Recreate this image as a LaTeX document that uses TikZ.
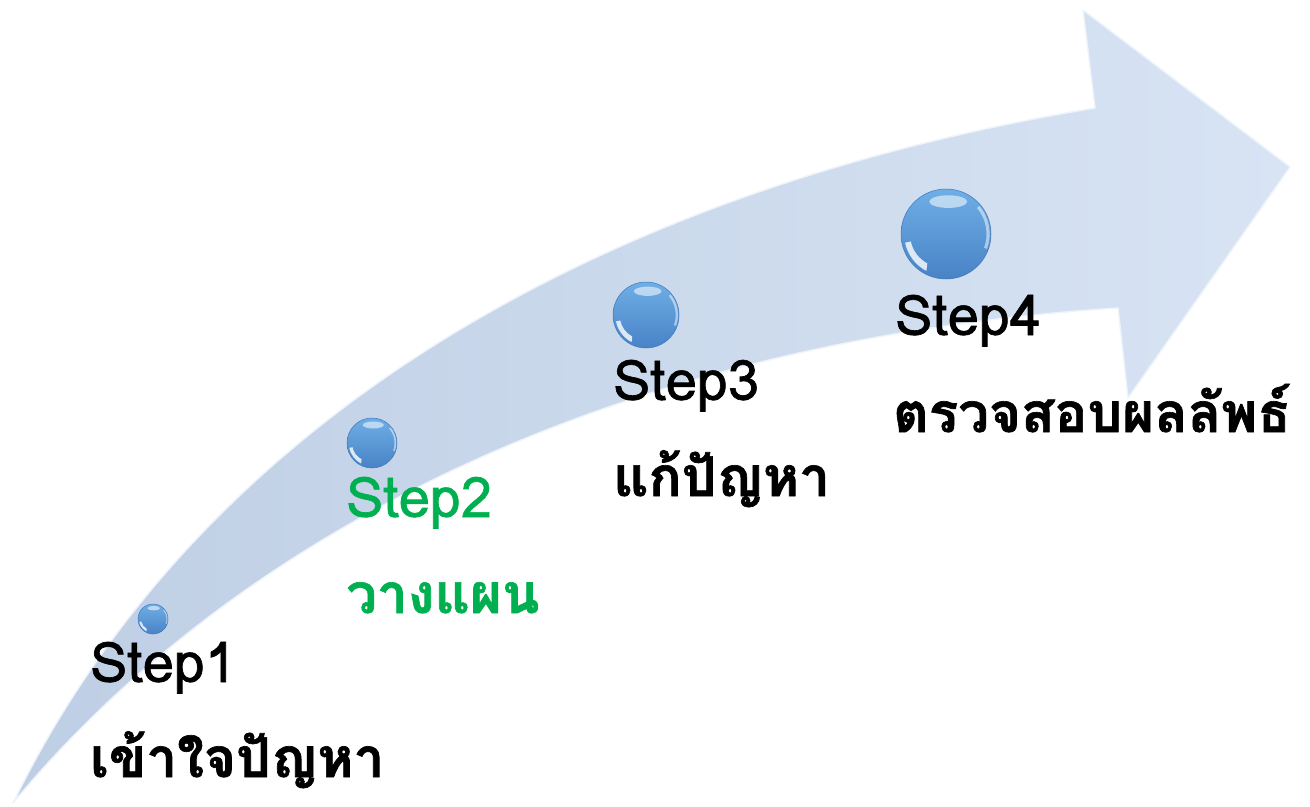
\documentclass[tikz,border=0pt]{standalone}
\usepackage{fontspec}
\newfontfamily\thaifont[Script=Thai, FakeBold=1.2]{Loma}
\usetikzlibrary{calc}
\definecolor{arrowlight}{HTML}{D8E4F4}
\definecolor{arrowdark}{HTML}{BECEE4}
\definecolor{bubtop}{HTML}{6FAEE6}
\definecolor{bubbot}{HTML}{4883C6}
\definecolor{bubedge}{HTML}{3E78BA}
\definecolor{stepgreen}{HTML}{00B050}
\tikzset{
  bubble/.style={circle, inner sep=0pt, draw=bubedge, line width=0.5pt, top color=bubtop, bottom color=bubbot},
  lbl/.style={anchor=base west, inner sep=0pt, font=\thaifont\fontsize{56}{60}\selectfont, text=black},
  thlbl/.style={lbl, font=\thaifont\bfseries\fontsize{55}{60}\selectfont},
  greenlbl/.style={lbl, text=stepgreen},
  greenthlbl/.style={thlbl, text=stepgreen}
}
\newcommand\mybubble[4]{%
  \node[bubble, minimum size=#4*2bp] (#1) at (#2,#3) {};
  \begin{scope}[shift={(#1.center)}, x=#4bp, y=-#4bp]
    \fill[white, opacity=0.55] (0.05,-0.72) ellipse (0.42 and 0.14);
    \fill[white, opacity=0.8] (118:0.93) arc (118:168:0.93) -- (168:0.8) arc (168:118:0.72) -- cycle;
    \fill[white, opacity=0.5] (-40:0.97) arc (-40:20:0.97) -- (20:0.9) arc (20:-40:0.9) -- cycle;
  \end{scope}}
\begin{document}
\begin{tikzpicture}[x=1bp, y=-1bp]
\useasboundingbox (0,0) rectangle (1310,806);
% arrow
\shade[left color=arrowdark, right color=arrowlight, draw=white!60!arrowlight, line width=1.5pt, line join=round]
  (13,803) .. controls (200,420) and (600,190) .. (1095,108)
  -- (1083,10) -- (1290,167) -- (1128,398) -- (1118,308)
  .. controls (620,340) and (240,530) .. (13,803) -- cycle;
% bubbles
\mybubble{b1}{153}{619}{15}
\mybubble{b2}{372}{443}{25}
\mybubble{b3}{646}{315}{33}
\mybubble{b4}{946}{234}{45}
% labels
\node[lbl] (s1) at (90,682) {Step1};
\node[thlbl] (t1) at (90,777) {เข้าใจปัญหา};
\node[greenlbl] (s2) at (346,517) {Step2};
\node[greenthlbl] (t2) at (346,613) {วางแผน};
\node[lbl] (s3) at (613,400) {Step3};
\node[thlbl] (t3) at (613,496) {แก้ปัญหา};
\node[lbl] (s4) at (895,335) {Step4};
\node[thlbl] (t4) at (893,432) {ตรวจสอบผลลัพธ์};
\end{tikzpicture}
\end{document}
